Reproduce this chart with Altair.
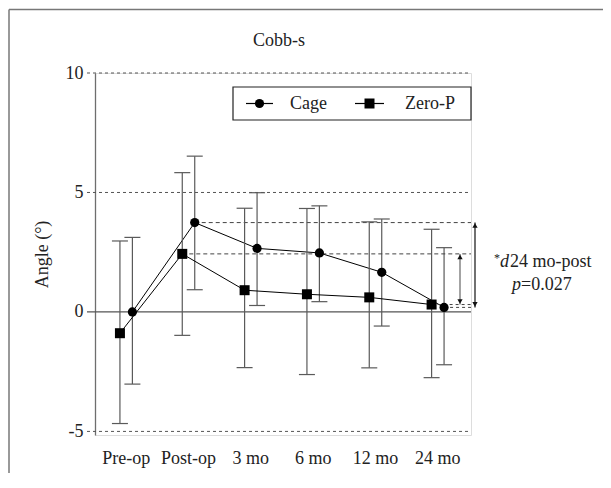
import altair as alt
import pandas as pd

# ---------------- data ----------------
times = ["Pre-op", "Post-op", "3 mo", "6 mo", "12 mo", "24 mo"]
groups = ["Cage", "Zero-P"]
cage_mean = [0.0, 3.74, 2.66, 2.47, 1.66, 0.19]
cage_upper = [3.12, 6.52, 4.99, 4.44, 3.89, 2.69]
cage_lower = [-3.02, 0.93, 0.27, 0.43, -0.59, -2.21]
zerop_mean = [-0.89, 2.43, 0.91, 0.74, 0.61, 0.31]
zerop_upper = [2.97, 5.83, 4.34, 4.33, 3.77, 3.46]
zerop_lower = [-4.67, -0.98, -2.33, -2.62, -2.34, -2.75]
grid_dotted = [10, 5, -5]
y_ticks = [-5, 0, 5, 10]
title_text = "Cobb-s"
y_title = "Angle (°)"
note_star = "*"
note_d = "d"
note_rest = "24 mo-post"
note_p = "p"
note_pval = "=0.027"

# ---------------- tables ----------------
rows = []
for g, m, lo, hi in [("Cage", cage_mean, cage_lower, cage_upper),
                     ("Zero-P", zerop_mean, zerop_lower, zerop_upper)]:
    for t, a, b, c in zip(times, m, lo, hi):
        rows.append({"time": t, "group": g, "mean": a, "lo": b, "hi": c})
df = pd.DataFrame(rows)
caps = pd.concat([
    df[["time", "group", "lo"]].rename(columns={"lo": "v"}),
    df[["time", "group", "hi"]].rename(columns={"hi": "v"}),
])
grid_df = pd.DataFrame({"v": grid_dotted})
arrow_df = pd.DataFrame({
    "group": groups,
    "top": [cage_mean[1], zerop_mean[1]],
    "bottom": [cage_mean[5], zerop_mean[5]],
})
one = pd.DataFrame({"k": [0]})

W, H = 376, 362
FONT = "Liberation Serif, Times New Roman, serif"
TXT = "#222222"
band_pos = {"Cage": 0.6, "Zero-P": 0.4}

yscale = alt.Scale(domain=[-5.15, 10], nice=False, zero=False)
yaxis = alt.Axis(values=y_ticks, ticks=False, grid=False, labelPadding=12,
                 labelFont=FONT, labelFontSize=18, labelColor=TXT,
                 labelExpr="replace(datum.label, '\u2212', '-')",
                 domainColor="#6e6e6e", domainWidth=1.3,
                 title=y_title, titleFont=FONT, titleFontSize=18,
                 titleFontWeight="normal", titleColor=TXT, titlePadding=14)
xscale = alt.Scale(type="band", domain=times, paddingInner=0, paddingOuter=0,
                   range=[0, 374])
xaxis = alt.Axis(title=None, ticks=False, domain=False, grid=False,
                 labelAngle=0, labelPadding=14, labelFont=FONT,
                 labelFontSize=18, labelColor=TXT, labelOverlap=False)


def X(g):
    return alt.X("time:N", scale=xscale, axis=xaxis, bandPosition=band_pos[g])


def Y(field):
    return alt.Y(field, type="quantitative", scale=yscale, axis=yaxis)


base = alt.Chart(df)
layers = []

# grid lines
layers.append(alt.Chart(grid_df).mark_rule(color="#555555", strokeWidth=1,
                                           strokeDash=[3, 3]).encode(
    y=Y("v"), x=alt.value(-8), x2=alt.value(W)))
layers.append(alt.Chart(one).mark_rule(color="#555555", strokeWidth=1.2).encode(
    y=alt.Y(datum=0, type="quantitative", scale=yscale, axis=yaxis),
    x=alt.value(-8), x2=alt.value(W)))

for g in groups:
    sub = base.transform_filter(alt.datum.group == g)
    # post-op reference dashes
    layers.append(sub.transform_filter(alt.datum.time == "Post-op").mark_rule(
        color="#444444", strokeWidth=1, strokeDash=[4, 3]).encode(
        x=X(g), x2=alt.value(W), y=Y("mean")))
    # 24 mo reference dashes
    layers.append(sub.transform_filter(alt.datum.time == "24 mo").mark_rule(
        color="#444444", strokeWidth=1, strokeDash=[3, 3]).encode(
        x=X(g), x2=alt.value(W), y=Y("mean")))
    # error bars
    layers.append(sub.mark_rule(color="#5a5a5a", strokeWidth=1.2).encode(
        x=X(g), y=Y("lo"), y2="hi"))
    layers.append(alt.Chart(caps).transform_filter(alt.datum.group == g).mark_point(
        shape="M-1,0H1", size=256, color="#5a5a5a", strokeWidth=1.2,
        opacity=1).encode(x=X(g), y=Y("v")))
    # connecting line
    layers.append(sub.mark_line(color="black", strokeWidth=1).encode(
        x=X(g), y=Y("mean"), order=alt.Order("idx:Q")).transform_calculate(
        idx="indexof(%s, datum.time)" % str(times)))

layers.append(base.transform_filter(alt.datum.group == "Cage").mark_point(
    shape="circle", filled=True, size=85, color="black", opacity=1).encode(
    x=X("Cage"), y=Y("mean")))
layers.append(base.transform_filter(alt.datum.group == "Zero-P").mark_point(
    shape="square", filled=True, size=100, color="black", opacity=1).encode(
    x=X("Zero-P"), y=Y("mean")))

# ---------------- legend box (drawn) ----------------
leg = alt.Chart(one)
layers.append(leg.mark_rect(fill="white", stroke="#222222", strokeWidth=1.2).encode(
    x=alt.value(138), x2=alt.value(376), y=alt.value(14), y2=alt.value(47)))
for (x0, x1, shape, size, lx, label) in [
        (151, 178, "circle", 85, 195, groups[0]),
        (260, 289, "square", 100, 310, groups[1])]:
    layers.append(leg.mark_rule(color="black", strokeWidth=1.2).encode(
        x=alt.value(x0), x2=alt.value(x1), y=alt.value(30.5)))
    layers.append(leg.mark_point(shape=shape, filled=True, size=size,
                                 color="black", opacity=1).encode(
        x=alt.value((x0 + x1) / 2), y=alt.value(30.5)))
    layers.append(leg.mark_text(align="left", baseline="middle", font=FONT,
                                fontSize=18, color=TXT).encode(
        x=alt.value(lx), y=alt.value(31), text=alt.value(label)))

# significance arrows
arrow_x = {"Cage": W + 4, "Zero-P": W - 11}
arrow_col = {"Cage": "#111111", "Zero-P": "#666666"}
for g in groups:
    a = alt.Chart(arrow_df).transform_filter(alt.datum.group == g)
    layers.append(a.mark_rule(color=arrow_col[g], strokeWidth=1.2).encode(
        x=alt.value(arrow_x[g]), y=Y("top"), y2="bottom"))
    layers.append(a.mark_point(shape="triangle-up", filled=True, size=28,
                               color="#111111", opacity=1).encode(
        x=alt.value(arrow_x[g]), y=Y("top"), yOffset=alt.value(3)))
    layers.append(a.mark_point(shape="triangle-down", filled=True, size=28,
                               color="#111111", opacity=1).encode(
        x=alt.value(arrow_x[g]), y=Y("bottom"), yOffset=alt.value(-3)))

# annotation text
def txt(s, x, y, size=18, style="normal", align="left"):
    return alt.Chart(one).mark_text(align=align, baseline="alphabetic",
                                    font=FONT, fontSize=size, fontStyle=style,
                                    color=TXT).encode(
        x=alt.value(x), y=alt.value(y), text=alt.value(s))

layers.append(txt(title_text, 184, -27, align="center"))
layers.append(txt(note_star, 399, 189, size=12))
layers.append(txt(note_d, 405, 194, style="italic"))
layers.append(txt(note_rest, 415, 194))
layers.append(txt(note_p, 417, 217, style="italic"))
layers.append(txt(note_pval, 426, 217))

# frame lines
layers.append(alt.Chart(one).mark_rule(color="#777777", strokeWidth=1.5).encode(
    x=alt.value(-86), x2=alt.value(W + 300), y=alt.value(-63.5)))
layers.append(alt.Chart(one).mark_rule(color="#777777", strokeWidth=1.5).encode(
    x=alt.value(-86), y=alt.value(-63.5), y2=alt.value(H + 200)))

chart = alt.layer(*layers).properties(
    width=W, height=H,
    padding={"left": 87, "top": 65, "right": 132, "bottom": 38},
    autosize=alt.AutoSizeParams(type="none"),
).configure_view(stroke=None).configure(
    background="white", font=FONT
).configure_axis(labelFont=FONT, titleFont=FONT).configure_text(font=FONT)

chart.save("out.html", embed_options={"renderer": "svg", "actions": False})
